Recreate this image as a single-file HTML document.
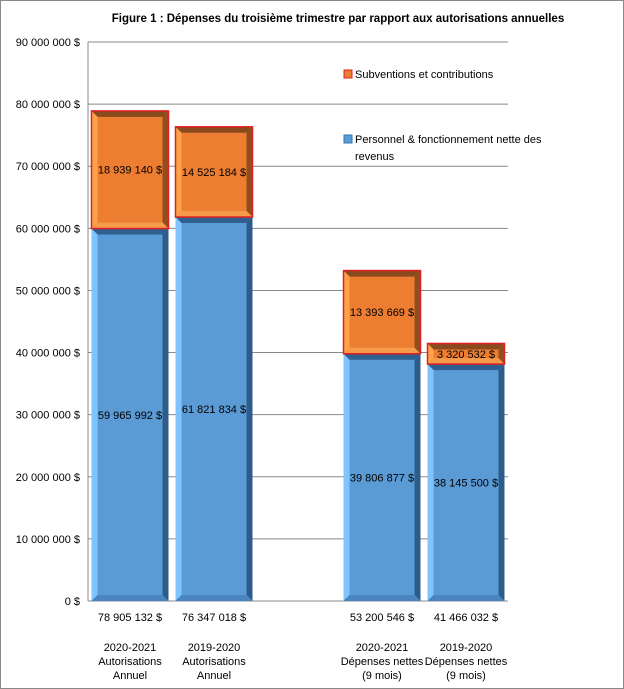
<!DOCTYPE html>
<html><head><meta charset="utf-8"><style>
body{margin:0;background:#fff}
svg{display:block;font-family:"Liberation Sans",Arial,sans-serif}
</style></head><body>
<svg id="c" width="624" height="689">
<rect x="0.5" y="0.5" width="623" height="688" fill="#fff" stroke="#888"/>
<text x="338" y="22" font-size="11.5" font-weight="bold" text-anchor="middle">Figure 1 : Dépenses du troisième trimestre par rapport aux autorisations annuelles</text>
<g id="grid"></g><g id="bars"></g><g id="labels"></g>
<g>
<rect x="344" y="70" width="8" height="8" fill="#ed7d31" stroke="#e02020"/>
<text x="355" y="78" font-size="11">Subventions et contributions</text>
<rect x="344" y="135" width="8" height="8" fill="#5b9bd5" stroke="#2e75b6"/>
<text x="355" y="143" font-size="11">Personnel &amp; fonctionnement nette des</text>
<text x="355" y="160" font-size="11">revenus</text>
</g>
</svg>
<script>
const categories1=["2020-2021","2019-2020","","2020-2021","2019-2020"];
const categories2=["Autorisations","Autorisations","","Dépenses nettes","Dépenses nettes"];
const categories3=["Annuel","Annuel","","(9 mois)","(9 mois)"];
const personnel=[59965992,61821834,null,39806877,38145500];
const subventions=[18939140,14525184,null,13393669,3320532];
const totals=["78 905 132 $","76 347 018 $","","53 200 546 $","41 466 032 $"];
const personnelLabels=["59 965 992 $","61 821 834 $","","39 806 877 $","38 145 500 $"];
const subventionLabels=["18 939 140 $","14 525 184 $","","13 393 669 $","3 320 532 $"];
const yTicks=[0,10000000,20000000,30000000,40000000,50000000,60000000,70000000,80000000,90000000];
const yTickLabels=["0 $","10 000 000 $","20 000 000 $","30 000 000 $","40 000 000 $","50 000 000 $","60 000 000 $","70 000 000 $","80 000 000 $","90 000 000 $"];
const NS="http://www.w3.org/2000/svg";
const X0=88,X1=508,Y0=601,Y1=42,MAX=90000000;
const y=v=>Y0-(v/MAX)*(Y0-Y1);
const slot=(X1-X0)/categories1.length;
const xc=i=>X0+slot*(i+0.5);
function mk(tag,attrs,parent){const e=document.createElementNS(NS,tag);for(const k in attrs)e.setAttribute(k,attrs[k]);parent.appendChild(e);return e;}
const grid=document.getElementById('grid'),bars=document.getElementById('bars'),labels=document.getElementById('labels');
yTicks.forEach((t,i)=>{
 const l=mk('line',{x1:X0,x2:X1,y1:y(t),y2:y(t),stroke:'#888','stroke-width':1},grid);
 
 
 const tx=mk('text',{x:80,y:y(t)+4,'font-size':11,'text-anchor':'end'},grid);
 tx.textContent=yTickLabels[i];
 
 
});
const ax=mk('line',{x1:X0,x2:X0,y1:Y1,y2:Y0,stroke:'#888'},grid);


function bevelBar(x,w,top,bot,c,g){
 const b=6;
 mk('rect',{x:x,y:top,width:w,height:bot-top,fill:c.main},g);
 mk('polygon',{points:`${x},${top} ${x+w},${top} ${x+w-b},${top+b} ${x+b},${top+b}`,fill:c.top},g);
 mk('polygon',{points:`${x},${top} ${x+b},${top+b} ${x+b},${bot-b} ${x},${bot}`,fill:c.left},g);
 mk('polygon',{points:`${x+w},${top} ${x+w},${bot} ${x+w-b},${bot-b} ${x+w-b},${top+b}`,fill:c.right},g);
 mk('polygon',{points:`${x},${bot} ${x+b},${bot-b} ${x+w-b},${bot-b} ${x+w},${bot}`,fill:c.bot},g);
 if(c.stroke)mk('rect',{x:x,y:top,width:w,height:bot-top,fill:'none',stroke:c.stroke,'stroke-width':1.5},g);
}
const blue={main:'#5b9bd5',top:'#2f5f8f',left:'#7fc4ff',right:'#2e5c8a',bot:'#4a85c0'};
const orange={main:'#ed7d31',top:'#8a4a1e',left:'#ffa24a',right:'#8f4f20',bot:'#f59a4a',stroke:'#e02020'};
const bw=77;
categories1.forEach((c,i)=>{
 if(personnel[i]==null)return;
 const x=xc(i)-bw/2;
 const g1=mk('g',{},bars);
 
 
 bevelBar(x,bw,y(personnel[i]),y(0),blue,g1);
 const g2=mk('g',{},bars);
 
 
 bevelBar(x,bw,y(personnel[i]+subventions[i]),y(personnel[i]),orange,g2);
 const t1=mk('text',{x:xc(i),y:(y(personnel[i])+y(0))/2+4,'font-size':11,'text-anchor':'middle'},labels);
 t1.textContent=personnelLabels[i];
 
 
 const t2=mk('text',{x:xc(i),y:(y(personnel[i]+subventions[i])+y(personnel[i]))/2+4,'font-size':11,'text-anchor':'middle'},labels);
 t2.textContent=subventionLabels[i];
 
 
 [[totals[i],621],[c,651],[categories2[i],665],[categories3[i],679]].forEach(([s,yy])=>{
  const t=mk('text',{x:xc(i),y:yy,'font-size':11,'text-anchor':'middle'},labels);
  t.textContent=s;
  
  
 });
});
</script>
</body></html>
